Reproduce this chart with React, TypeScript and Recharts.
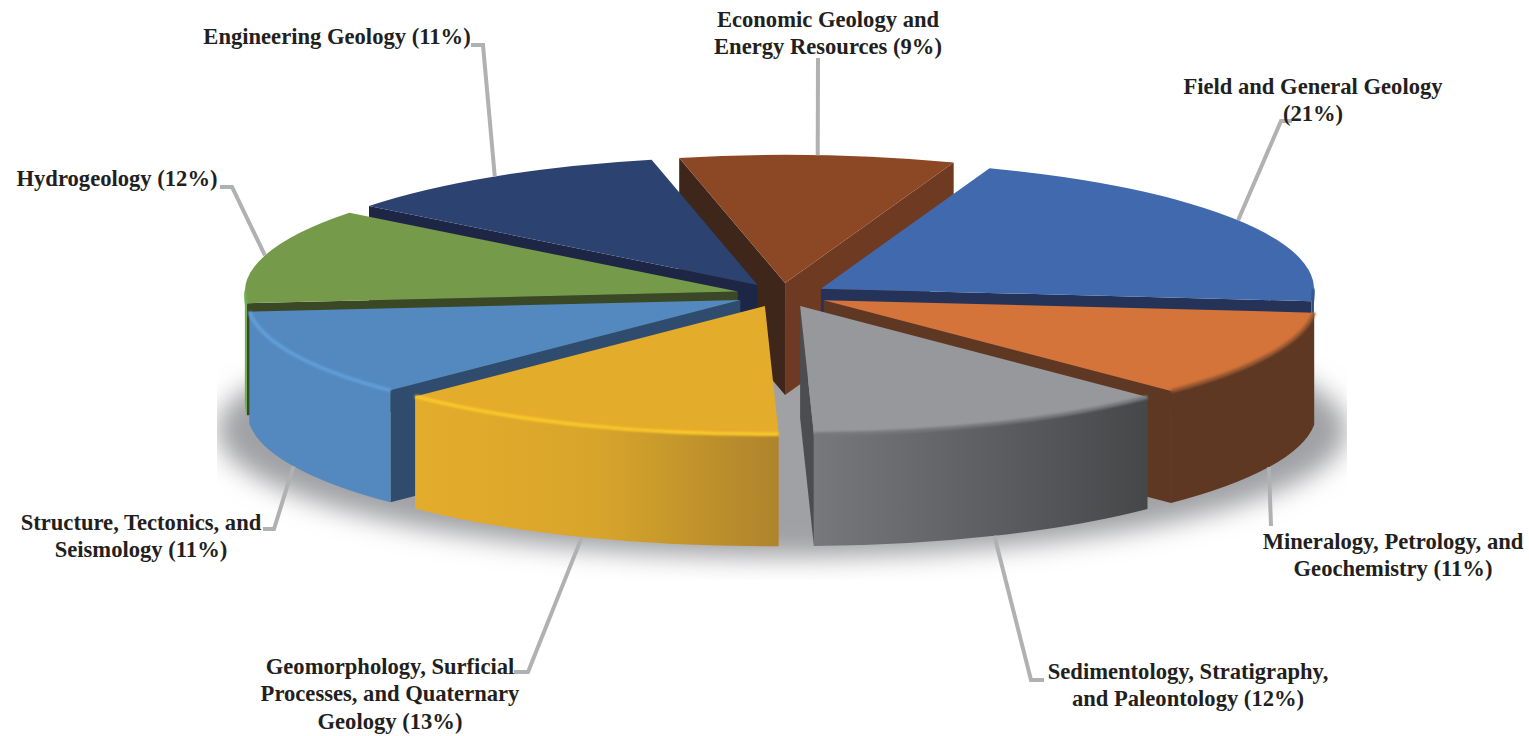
import React from 'react';
import { PieChart, Pie } from 'recharts';

const categories = [
  'Field and General Geology',
  'Mineralogy, Petrology, and Geochemistry',
  'Sedimentology, Stratigraphy, and Paleontology',
  'Geomorphology, Surficial Processes, and Quaternary Geology',
  'Structure, Tectonics, and Seismology',
  'Hydrogeology',
  'Engineering Geology',
  'Economic Geology and Energy Resources',
];
const shares = [21, 11, 12, 13, 11, 12, 11, 9];

const labelLines = [
  ['Field and General Geology', '(21%)'],
  ['Mineralogy, Petrology, and', 'Geochemistry (11%)'],
  ['Sedimentology, Stratigraphy,', 'and Paleontology (12%)'],
  ['Geomorphology, Surficial', 'Processes, and Quaternary', 'Geology (13%)'],
  ['Structure, Tectonics, and', 'Seismology (11%)'],
  ['Hydrogeology (12%)'],
  ['Engineering Geology (11%)'],
  ['Economic Geology and', 'Energy Resources (9%)'],
];

const data = categories.map((name, i) => ({ name, value: shares[i] }));

// back to front, the pie has to be painted in this order
const paintOrder = [7, 6, 0, 5, 1, 4, 2, 3];

const W = 1529;
const H = 736;
const CX = 782;
const CY = 295;
const RADIUS = 493;
const SQUASH = 0.26;
const EXPLODE = 46;
const DEPTH = 112;

const looks = [
  { top: '#4169AE', rim: '#2F5290', wall: '#2B4C85', start: '#253359', end: '#253359' },
  { top: '#D4733A', rim: '#9A5A30', wall: '#5E3823', start: '#5E3823', end: '#5E3823' },
  { top: '#97989B', rim: '#77787B', wall: 'url(#wallGray)', start: '#4C4D50', end: '#4C4D50' },
  { top: '#E4AC2B', rim: '#FCCB2A', wall: 'url(#wallYellow)', start: '#9A7526', end: '#9A7526' },
  { top: '#5389BE', rim: '#62A0DC', wall: '#5389BE', start: '#2F4C6F', end: '#2F4C6F' },
  { top: '#759B4A', rim: '#6CAE4A', wall: '#6CAE4A', start: '#3A4825', end: '#3A4825' },
  { top: '#2C4270', rim: '#2C4270', wall: '#2C4270', start: '#1D2745', end: '#1D2745' },
  { top: '#8C4825', rim: '#A05A35', wall: '#6F3A22', start: '#3F261A', end: '#6F3A22' },
];

// leader elbow and tail, label centre and first baseline
const labelLayout = [
  { elbow: [1281, 121], tail: [1292, 121], x: 1313, y: 94 },
  { elbow: [1271, 526], tail: [1271, 526], x: 1393, y: 549 },
  { elbow: [1031, 680], tail: [1044, 680], x: 1188, y: 679 },
  { elbow: [528, 672], tail: [514, 672], x: 390, y: 674 },
  { elbow: [274, 529], tail: [263, 529], x: 141, y: 530 },
  { elbow: [232, 187], tail: [220, 187], x: 117, y: 186 },
  { elbow: [483, 45], tail: [471, 45], x: 337, y: 44 },
  { elbow: [818, 58], tail: [818, 58], x: 828, y: 27 },
];

const rad = (deg: number) => (deg * Math.PI) / 180;

const apexOf = (p: any) => {
  const mid = rad((p.startAngle + p.endAngle) / 2);
  return {
    x: p.cx + EXPLODE * Math.cos(mid),
    y: p.cy - EXPLODE * SQUASH * Math.sin(mid),
  };
};

const rimPoint = (apex: { x: number; y: number }, r: number, deg: number, drop = 0) => ({
  x: apex.x + r * Math.cos(rad(deg)),
  y: apex.y - r * SQUASH * Math.sin(rad(deg)) + drop,
});

const Slice = (p: any, idx: number) => {
  if (p.index !== idx) return <g />;
  const look = looks[idx];
  const r = p.outerRadius;
  const ry = r * SQUASH;
  const apex = apexOf(p);
  const a0 = p.startAngle;
  const a1 = p.endAngle;
  const s = rimPoint(apex, r, a0);
  const e = rimPoint(apex, r, a1);
  const big = a0 - a1 > 180 ? 1 : 0;

  const radial = (pt: { x: number; y: number }, fill: string) => (
    <path
      d={`M${apex.x},${apex.y} L${pt.x},${pt.y} L${pt.x},${pt.y + DEPTH} L${apex.x},${apex.y + DEPTH} Z`}
      fill={fill}
    />
  );

  // only the part of the arc facing the viewer gets an outer wall and a rim
  const f0 = Math.min(a0, 0);
  const f1 = Math.max(a1, -180);
  let wall = null;
  let rim = null;
  if (f0 > f1) {
    const w0 = rimPoint(apex, r, f0);
    const w1 = rimPoint(apex, r, f1);
    wall = (
      <path
        d={`M${w0.x},${w0.y} A${r},${ry} 0 0 1 ${w1.x},${w1.y} L${w1.x},${w1.y + DEPTH} A${r},${ry} 0 0 0 ${w0.x},${w0.y + DEPTH} Z`}
        fill={look.wall}
      />
    );
    rim = (
      <path
        d={`M${w0.x},${w0.y} A${r},${ry} 0 0 1 ${w1.x},${w1.y}`}
        fill="none"
        stroke={look.rim}
        strokeWidth={3.5}
        filter="url(#soft)"
      />
    );
  }

  return (
    <g>
      {Math.cos(rad(a0)) < 0 && radial(s, look.start)}
      {Math.cos(rad(a1)) > 0 && radial(e, look.end)}
      {wall}
      <path d={`M${apex.x},${apex.y} L${s.x},${s.y} A${r},${ry} 0 ${big} 1 ${e.x},${e.y} Z`} fill={look.top} />
      {rim}
    </g>
  );
};

const Callout = (p: any) => {
  const i = p.index;
  const layout = labelLayout[i];
  const mid = (p.startAngle + p.endAngle) / 2;
  const front = Math.sin(rad(mid)) < 0;
  const from = rimPoint(apexOf(p), p.outerRadius, mid, front ? DEPTH : 0);
  return (
    <g>
      <polyline
        points={`${from.x},${from.y} ${layout.elbow[0]},${layout.elbow[1]} ${layout.tail[0]},${layout.tail[1]}`}
        fill="none"
        stroke="#B0B1B3"
        strokeWidth={4}
      />
      {labelLines[i].map((line, n) => (
        <text
          key={line}
          x={layout.x}
          y={layout.y + n * 27.3}
          textAnchor="middle"
          fontFamily="'Liberation Serif', serif"
          fontWeight="bold"
          fontSize={22.6}
          fill="#231F20"
        >
          {line}
        </text>
      ))}
    </g>
  );
};

const pieProps = {
  data,
  dataKey: 'value',
  nameKey: 'name',
  cx: CX,
  cy: CY,
  outerRadius: RADIUS,
  startAngle: 70,
  endAngle: -290,
  stroke: 'none',
  isAnimationActive: false,
};

export default function App() {
  return (
    <div style={{ position: 'absolute', left: 0, top: 0, width: W, height: H, background: '#fff' }}>
      <PieChart width={W} height={H} margin={{ top: 0, right: 0, bottom: 0, left: 0 }}>
        <defs>
          <linearGradient id="wallGray" x1="0" y1="0" x2="1" y2="0">
            <stop offset="0" stopColor="#77787C" />
            <stop offset="1" stopColor="#454749" />
          </linearGradient>
          <linearGradient id="wallYellow" x1="0" y1="0" x2="1" y2="0">
            <stop offset="0" stopColor="#E4AC2B" />
            <stop offset="0.5" stopColor="#D8A52B" />
            <stop offset="1" stopColor="#AE842C" />
          </linearGradient>
          <filter id="soft" x="-5%" y="-20%" width="110%" height="140%">
            <feGaussianBlur stdDeviation="0.9" />
          </filter>
          <filter id="floorBlur" x="-10%" y="-20%" width="120%" height="140%">
            <feGaussianBlur stdDeviation="13" />
          </filter>
          <clipPath id="floorClip">
            <rect x={217} y={280} width={1130} height={300} />
          </clipPath>
        </defs>
        <g clipPath="url(#floorClip)">
          <ellipse cx={782} cy={430} rx={565} ry={127} fill="#A0A1A4" filter="url(#floorBlur)" />
        </g>
        {paintOrder.map((idx) => (
          <Pie key={idx} {...pieProps} shape={(p: any) => Slice(p, idx)} />
        ))}
        <Pie {...pieProps} shape={Callout} />
      </PieChart>
    </div>
  );
}
